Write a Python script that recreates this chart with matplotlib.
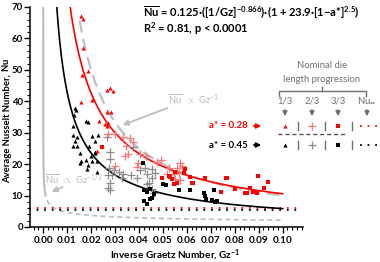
import numpy as np
import matplotlib
matplotlib.use("Agg")
import matplotlib.pyplot as plt
from matplotlib.ticker import MultipleLocator

plt.rcParams['font.family'] = ['Lato', 'DejaVu Sans']
plt.rcParams['mathtext.fontset'] = 'custom'
plt.rcParams['mathtext.rm'] = 'Lato'
plt.rcParams['mathtext.bf'] = 'Lato:bold'
plt.rcParams['mathtext.it'] = 'Lato:italic'

# ---- data ----
tri_028_x = [0.0156, 0.0167, 0.0167, 0.0187, 0.0163, 0.0159, 0.0205, 0.0267, 0.0277, 0.0291,
             0.0265, 0.0285, 0.0235, 0.0260, 0.0270, 0.0265, 0.0244, 0.0226]
tri_028_y = [67.2, 66.2, 56.9, 49.7, 48.4, 39.9, 40.4, 43.6, 44.1, 43.4,
             36.7, 36.7, 33.8, 32.8, 33.0, 32.0, 25.8, 24.2]

tri_045_x = [0.0131, 0.0137, 0.0128, 0.0180, 0.0187, 0.0126, 0.0126, 0.0140, 0.0131, 0.0126,
             0.0140, 0.0152, 0.0156, 0.0152, 0.0205, 0.0228, 0.0216, 0.0191, 0.0215, 0.0198,
             0.0177, 0.0205, 0.0226, 0.0187, 0.0184, 0.0226, 0.0216]
tri_045_y = [37.8, 37.2, 35.6, 33.8, 33.5, 32.1, 29.3, 28.6, 27.4, 25.8,
             25.8, 23.6, 21.0, 20.3, 29.0, 29.3, 27.4, 25.8, 24.0, 22.6,
             21.2, 21.0, 21.0, 19.6, 18.6, 17.6, 23.6]

plus_045_x = [0.0265, 0.0281, 0.0281, 0.0274, 0.0270, 0.0288, 0.0295, 0.0278, 0.0270, 0.0278,
              0.0316, 0.0334, 0.0330, 0.0367, 0.0390, 0.0427, 0.0434, 0.0441, 0.0455, 0.0455,
              0.0469, 0.0434, 0.0455, 0.0462, 0.0403, 0.0376]
plus_045_y = [28.6, 24.0, 21.5, 18.9, 16.5, 16.4, 18.0, 14.1, 12.3, 11.7,
              17.6, 17.0, 15.5, 16.5, 15.7, 18.9, 16.8, 14.1, 18.4, 15.7,
              17.3, 13.6, 12.0, 10.9, 18.0, 25.5]

plus_028_x = [0.0270, 0.0302, 0.0334, 0.0362, 0.0344, 0.0353, 0.0340, 0.0302, 0.0395, 0.0390,
              0.0403, 0.0431, 0.0476, 0.0493, 0.0524, 0.0545, 0.0566, 0.0580, 0.0573, 0.0552,
              0.0518, 0.0376, 0.0573, 0.0559]
plus_028_y = [29.5, 29.7, 28.6, 28.2, 25.8, 23.3, 22.6, 19.4, 20.4, 19.1,
              23.1, 22.6, 20.8, 21.2, 18.9, 17.0, 17.3, 19.4, 14.9, 15.2,
              16.8, 27.1, 20.3, 18.7]

sq_028_x = [0.0497, 0.0524, 0.0538, 0.0552, 0.0545, 0.0559, 0.0587, 0.0594, 0.0530, 0.0615,
            0.0677, 0.0767, 0.0622, 0.0626, 0.0674, 0.0743, 0.0765, 0.0799, 0.0841, 0.0851,
            0.0865, 0.0878, 0.0892, 0.0897, 0.0923, 0.0938, 0.0245]
sq_028_y = [15.7, 16.2, 15.2, 17.6, 13.6, 14.1, 17.3, 18.4, 16.0, 16.0,
            15.5, 15.5, 13.9, 14.1, 15.5, 11.2, 15.5, 12.0, 10.7, 10.7,
            12.5, 11.1, 10.7, 16.2, 12.5, 14.4, 25.6]

sq_045_x = [0.0417, 0.0423, 0.0434, 0.0445, 0.0420, 0.0434, 0.0445, 0.0455, 0.0462, 0.0501,
            0.0515, 0.0566, 0.0612, 0.0670, 0.0677, 0.0681, 0.0705, 0.0712, 0.0719, 0.0726]
sq_045_y = [20.5, 11.7, 11.2, 12.0, 8.3, 7.4, 8.8, 9.3, 10.4, 13.8,
            13.4, 11.7, 11.7, 10.9, 9.9, 8.8, 8.5, 11.7, 8.0, 8.3]

a_star = [0.28, 0.45]
nu_inf = [6.2, 5.4]
fit_c, fit_exp, fit_k, fit_p = 0.125, 0.866, 23.9, 2.5
x_ticks = [0.00, 0.01, 0.02, 0.03, 0.04, 0.05, 0.06, 0.07, 0.08, 0.09, 0.10]
y_ticks = [0, 10, 20, 30, 40, 50, 60, 70]

RED = '#ff0000'
LRED = '#f47a7a'
GRAY = '#8c8c8c'
LGRAY = '#bdbdbd'

W, H = 380, 262
fig = plt.figure(figsize=(W / 100, H / 100), dpi=100)
ax = fig.add_axes([30 / W, 1 - 227 / H, (303 - 30) / W, (227 - 7) / H])

# reference power-law lines
xs = np.linspace(1e-6, 0.001, 200)
ax.plot(xs, xs ** (-1 / 3), color=LGRAY, lw=1.5)
xs = np.linspace(0.0016, 0.10, 300)
ax.plot(xs, xs ** (-1 / 3), color=LGRAY, lw=1.2, ls=(0, (3, 2)))
xs = np.linspace(0.0152, 0.10, 300)
ax.plot(xs, 1.0 / xs, color=LGRAY, lw=1.5, ls=(0, (6, 3)))

# Nu infinity
ax.plot([-0.006, 0.108], [nu_inf[0]] * 2, color=RED, lw=1.3, ls=(0, (1, 3.2)))
ax.plot([-0.006, 0.108], [nu_inf[1]] * 2, color='black', lw=1.3, ls=(0, (1, 3.2)))

# fits
for a, col in zip(a_star, [RED, 'black']):
    c = fit_c * (1 + fit_k * (1 - a) ** fit_p)
    x0 = (70 / c) ** (-1 / fit_exp)
    xs = np.linspace(x0, 0.10, 300)
    ax.plot(xs, c * xs ** (-fit_exp), color=col, lw=1.2)

# scatter
ax.plot(plus_045_x, plus_045_y, '+', color=GRAY, ms=5.5, mew=0.9, ls='none')
ax.plot(plus_028_x, plus_028_y, '+', color=LRED, ms=5.5, mew=0.9, ls='none')
ax.plot(tri_045_x, tri_045_y, '^', color='black', ms=3.0, mew=0, ls='none')
ax.plot(tri_028_x, tri_028_y, '^', color=RED, ms=3.0, mew=0, ls='none')
ax.plot(sq_045_x, sq_045_y, 's', color='black', ms=2.6, mew=0, ls='none')
ax.plot(sq_028_x, sq_028_y, 's', color=RED, ms=2.6, mew=0, ls='none')

ax.set_xlim(-0.0055, 0.1085)
ax.set_ylim(0, 70)
ax.set_xticks(x_ticks)
ax.set_xticklabels([f"{v:.2f}" for v in x_ticks])
ax.set_yticks(y_ticks)
ax.xaxis.set_minor_locator(MultipleLocator(0.002))
ax.yaxis.set_minor_locator(MultipleLocator(2))
for s in ['top', 'right']:
    ax.spines[s].set_visible(False)
for s in ['left', 'bottom']:
    ax.spines[s].set_linewidth(1.1)
ax.tick_params(which='major', length=4, width=1, labelsize=7.2)
ax.tick_params(axis='x', which='major', pad=2.5)
ax.tick_params(axis='y', which='major', pad=1.0, labelsize=6.9)
ax.tick_params(which='minor', length=2.5, width=0.8)
for lbl in ax.get_xticklabels() + ax.get_yticklabels():
    lbl.set_fontweight('bold')

# overlay in pixel coordinates
ov = fig.add_axes([0, 0, 1, 1], facecolor='none')
ov.set_xlim(0, W)
ov.set_ylim(H, 0)
ov.axis('off')

# x label
ov.text(175, 255, r"Inverse Graetz Number, Gz$^{\mathbf{-1}}$", fontsize=7.2, fontweight='bold',
        ha='center', va='center')

# y label: plain part + mathtext Nu with overline, laid end to end
fig.canvas.draw()
rend = fig.canvas.get_renderer()
part1 = "Average Nusselt Number, "
part2 = r"$\overline{\mathbf{Nu}}$"
t1 = ov.text(0, 0, part1, fontsize=6.8, fontweight='bold')
t2 = ov.text(0, 0, part2, fontsize=6.8, fontweight='bold')
l1 = t1.get_window_extent(rend).width
l2 = t2.get_window_extent(rend).width
t1.remove()
t2.remove()
xb = 10.0
ystart = 120 + (l1 + l2) / 2
ov.text(xb, ystart, part1, rotation=90, rotation_mode='anchor', fontsize=6.8,
        fontweight='bold', ha='left', va='baseline')
ov.text(xb, ystart - l1, part2, rotation=90, rotation_mode='anchor', fontsize=6.8,
        fontweight='bold', ha='left', va='baseline')

ov.text(143, 13, r"$\overline{\mathbf{Nu}}$ = 0.125·([1/Gz]$^{\mathbf{-0.866}}$)·(1 + 23.9·[1−a*]$^{\mathbf{2.5}}$)",
        fontsize=8.0, fontweight='bold', va='center', ha='left')
ov.text(143, 29, r"R$^{\mathbf{2}}$ = 0.81, p < 0.0001", fontsize=8.0, fontweight='bold', va='center', ha='left')

# annotations
ov.text(168, 100, r"$\overline{\mathrm{Nu}}$  $\propto$ Gz$^{-1}$", fontsize=6.8, color=LGRAY, va='center', ha='left')
ov.annotate("", xy=(120, 126), xytext=(170, 107),
            arrowprops=dict(arrowstyle='-|>', color=LGRAY, lw=1.3, mutation_scale=8))
ov.text(45, 180, r"$\overline{\mathrm{Nu}}$  $\propto$ Gz$^{-1/3}$", fontsize=6.8, color=LGRAY, va='center', ha='left')
ov.annotate("", xy=(49, 193), xytext=(65, 186),
            arrowprops=dict(arrowstyle='-|>', color=LGRAY, lw=1.3, mutation_scale=8))

# custom legend
LG = '#707070'
ov.text(322, 66, "Nominal die", fontsize=6.8, color=LG, ha='center', va='center')
ov.text(322, 80, "length progression", fontsize=6.8, color=LG, ha='center', va='center')
ov.plot([279, 279, 366, 366], [96, 91, 91, 96], color=LG, lw=1)
ov.plot([322, 322], [91, 87], color=LG, lw=1)
cols = [285, 312, 338, 367]
for cx, t in zip(cols, ["1/3", "2/3", "3/3", r"Nu$_{\infty}$"]):
    ov.text(cx, 101, t, fontsize=6.8, color=LG, ha='center', va='center')
    ov.annotate("", xy=(cx, 119), xytext=(cx, 107),
                arrowprops=dict(arrowstyle='-|>', color=LG, lw=1, mutation_scale=7))
rows = [(126, RED, LRED, "a* = 0.28"), (145, 'black', GRAY, "a* = 0.45")]
for ry, c1, c2, lab in rows:
    ov.text(248, ry, lab, fontsize=7, color=c1, fontweight='bold', ha='right', va='center')
    ov.annotate("", xy=(264, ry), xytext=(251, ry),
                arrowprops=dict(arrowstyle='-|>', color=c1, lw=1.2, mutation_scale=7))
    ov.plot([cols[0]], [ry], '^', color=c1, ms=3.0, mew=0)
    ov.plot([cols[1]], [ry], '+', color=c2, ms=5.5, mew=0.9)
    ov.plot([cols[2]], [ry], 's', color=c1, ms=2.6, mew=0)
    for bx in [298, 325, 352]:
        ov.plot([bx, bx], [ry - 4, ry + 4], color=LG, lw=1)
    ov.plot([360, 380], [ry, ry], color=c1, lw=1.3, ls=(0, (1, 3.2)))
ov.plot([278, 345], [134, 134], color='#555555', lw=1, ls=(0, (3, 2)))

fig.savefig("out.png", dpi=100)
